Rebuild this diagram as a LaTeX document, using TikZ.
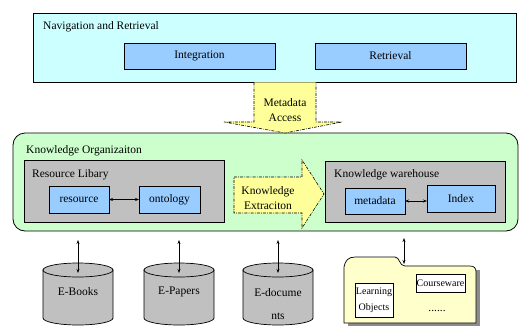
\documentclass[tikz,border=0pt]{standalone}
\usepackage{fontspec}
\setmainfont{Liberation Serif}
\usetikzlibrary{arrows.meta}
\definecolor{navcyan}{HTML}{CCFFFF}
\definecolor{boxblue}{HTML}{99CCFF}
\definecolor{orggreen}{HTML}{CCFFCC}
\definecolor{libgray}{HTML}{C0C0C0}
\definecolor{arrowyellow}{HTML}{FFFF99}
\definecolor{folderyellow}{HTML}{FFFFCC}
\tikzset{
  frame/.style={draw=black, line width=0.8pt, outer sep=0pt, inner sep=0pt, anchor=north west},
  navbox/.style={frame, fill=navcyan},
  bluebox/.style={frame, fill=boxblue},
  greenbox/.style={frame, fill=orggreen, rounded corners=12pt},
  graybox/.style={frame, fill=libgray},
  whitebox/.style={frame, fill=white},
  title/.style={anchor=west, inner sep=0pt},
  lbl/.style={inner sep=0pt, align=center},
  dd/.style={line width=0.6pt, dash pattern=on 3pt off 1.2pt on 0.8pt off 1.2pt},
  dbl/.style={line width=0.6pt, {Stealth[length=4pt,width=3pt]}-{Stealth[length=4pt,width=3pt]}},
  cyl/.style={draw=black, line width=0.7pt, fill=libgray},
}
\begin{document}
\begin{tikzpicture}[x=1pt,y=-1pt,font=\fontsize{11.5}{13.5}\selectfont]
\useasboundingbox (0,0) rectangle (519,327);
% top box
\node[navbox, minimum width=483pt, minimum height=69pt] (nav) at (33,13) {};
\node[title] (navt) at (43,27) {Navigation and Retrieval};
\node[bluebox, minimum width=151pt, minimum height=26pt] (integ) at (124,43) {};
\node[lbl] (integt) at (integ.center) {Integration};
\node[bluebox, minimum width=151pt, minimum height=26pt] (retr) at (315,43) {};
\node[lbl] (retrt) at (retr.center) {Retrieval};
% green box
\node[greenbox, minimum width=505pt, minimum height=98pt] (org) at (13,133) {};
\node[title] (orgt) at (26,151) {Knowledge Organizaiton};
% metadata access arrow
\fill[arrowyellow] (254,82.4) -- (254,122) -- (224,122) -- (285,133) -- (342,122) -- (316,122) -- (316,82.4) -- cycle;
\draw[dd] (254,82.4) -- (254,122) -- (224,122) -- (285,133) -- (342,122) -- (316,122) -- (316,82.4);
\node[lbl] (mat) at (285,110) {Metadata\\[2pt]Access};
% resource library
\node[graybox, minimum width=200pt, minimum height=62pt] (lib) at (24,160) {};
\node[title] (libt) at (32,175) {Resource Libary};
\node[bluebox, minimum width=60pt, minimum height=27pt] (res) at (49,186) {};
\node[lbl] (rest) at (res.center) {resource};
\node[bluebox, minimum width=61pt, minimum height=27pt] (ont) at (139,186) {};
\node[lbl] (ontt) at (ont.center) {ontology};
\draw[dbl] (res.east) -- (ont.west);
% knowledge warehouse
\node[graybox, minimum width=180pt, minimum height=61pt] (wh) at (325,161) {};
\node[title] (wht) at (334,175) {Knowledge warehouse};
\node[bluebox, minimum width=60pt, minimum height=26pt] (meta) at (345,188) {};
\node[lbl] (metat) at (meta.center) {metadata};
\node[bluebox, minimum width=68pt, minimum height=27pt] (idx) at (427,185) {};
\node[lbl] (idxt) at (idx.center) {Index};
\draw[dbl] (meta.east) -- (meta.east -| idx.west);
% knowledge extraction arrow
\draw[dd, fill=arrowyellow] (234,177) -- (302,177) -- (302,160) -- (324,194) -- (302,228) -- (302,213) -- (234,213) -- cycle;
\node[lbl] (ke) at (268,198) {Knowledge\\[2pt]Extraciton};
% cylinders
\foreach \cx/\nm in {78/c1,179/c2,278/c3}{
  \path[cyl] (\cx-35,270) -- (\cx-35,318) arc[start angle=180,end angle=0,x radius=35,y radius=7] -- (\cx+35,270) -- cycle;
  \draw[cyl] (\cx,270) ellipse [x radius=35,y radius=7];
  \coordinate (\nm top) at (\cx,240);
  \coordinate (\nm in) at (\cx,273);
  \draw[dbl] (\nm top) -- (\nm in);
}
\node[lbl] (ebooks) at (78,292) {E-Books};
\node[lbl] (epapers) at (179,292) {E-Papers};
\node[lbl] (edocs) at (278,304) {E-docume\\[10pt]nts};
% folder
\fill[black!45] ([shift={(4,3)}]344,323) -- ([shift={(4,3)}]344,267) -- ([shift={(4,3)}]476,267) -- ([shift={(4,3)}]476,323) -- cycle;
\draw[line width=0.7pt, fill=folderyellow] (344,323) -- (344,267) .. controls (345,261) and (348,257) .. (355,257) -- (395,257) .. controls (400,257) and (399,266) .. (405,266) -- (470,266) .. controls (474,266) and (476,268) .. (476,272) -- (476,323) -- cycle;
\coordinate (ftop) at (404,238);
\coordinate (fin) at (404,264);
\draw[dbl] (ftop) -- (fin);
\node[whitebox, minimum width=38pt, minimum height=34pt] (lo) at (355,283) {};
\node[lbl, font=\fontsize{10}{16}\selectfont] (lot) at (lo.center) {Learning\\Objects};
\node[whitebox, minimum width=49pt, minimum height=18pt] (cw) at (416,274) {};
\node[lbl, font=\fontsize{10}{12}\selectfont] (cwt) at (cw.center) {Courseware};
\node[lbl] (dots) at (437,311) {......};
\end{tikzpicture}
\end{document}
